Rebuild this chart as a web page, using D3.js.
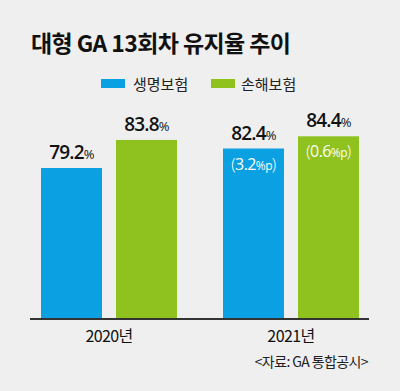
<!DOCTYPE html>
<html><head><meta charset="utf-8">
<script src="https://cdn.jsdelivr.net/npm/d3@7"></script>
<style>
html,body{margin:0;padding:0;background:#efefef;}
svg{display:block;font-family:"Noto Sans CJK KR","Noto Sans",sans-serif;}
</style></head>
<body>
<svg id="c" width="400" height="391"></svg>
<script>
const title = "대형 GA 13회차 유지율 추이";
const categories = ["2020년", "2021년"];
const seriesNames = ["생명보험", "손해보험"];
const lifeValues = [79.2, 82.4];
const nonLifeValues = [83.8, 84.4];
const lifeChange = [null, "3.2"];
const nonLifeChange = [null, "0.6"];
const source = "<자료: GA 통합공시>";
const colors = ["#0aa0e2", "#8fc21f"];

const svg = d3.select("#c");
svg.append("rect").attr("width",400).attr("height",391).attr("fill","#efefef");

svg.append("text").attr("x",31).attr("y",52)
  .attr("font-size",23).attr("font-weight",700).attr("fill","#111")
  .attr("letter-spacing",-0.6).text(title);

// legend
const lg = svg.append("g");
[[101,133],[211,241]].forEach((p,i)=>{
  lg.append("rect").attr("x",p[0]).attr("y",79).attr("width",24).attr("height",9).attr("fill",colors[i]);
  lg.append("text").attr("x",p[1]).attr("y",90).attr("font-size",15).attr("fill","#222").text(seriesNames[i]);
});

const x0 = d3.scaleBand().domain(categories).range([41,359]).paddingInner(0.2527).paddingOuter(0);
const x1 = d3.scaleBand().domain(seriesNames).range([0,x0.bandwidth()]).paddingInner(0.1867).paddingOuter(0);
const y = d3.scaleLinear().domain([54.45,90]).range([319,319-35.55*6.1]);

const data = categories.map((c,i)=>({cat:c, vals:[
  {s:seriesNames[0], v:lifeValues[i], ch:lifeChange[i], col:colors[0]},
  {s:seriesNames[1], v:nonLifeValues[i], ch:nonLifeChange[i], col:colors[1]}
]}));

const g = svg.append("g");
const grp = g.selectAll("g.cat").data(data).join("g").attr("transform",d=>`translate(${x0(d.cat)},0)`);
grp.selectAll("rect").data(d=>d.vals).join("rect")
  .attr("x",d=>x1(d.s)).attr("width",x1.bandwidth())
  .attr("y",d=>y(d.v)).attr("height",d=>y.range()[0]-y(d.v)).attr("fill",d=>d.col);

grp.selectAll("text.val").data(d=>d.vals).join("text").attr("class","val")
  .attr("x",d=>x1(d.s)+x1.bandwidth()/2).attr("y",d=>y(d.v)-9)
  .attr("text-anchor","middle").attr("fill","#111")
  .attr("font-family","'Open Sans','Noto Sans',sans-serif").attr("letter-spacing",-0.8)
  .each(function(d){
    const t=d3.select(this);
    t.append("tspan").attr("font-size",19).attr("font-weight",600).text(d.v.toFixed(1));
    t.append("tspan").attr("font-size",13).text("%");
  });

grp.selectAll("text.ch").data(d=>d.vals.filter(v=>v.ch)).join("text").attr("class","ch")
  .attr("x",d=>x1(d.s)+x1.bandwidth()/2).attr("y",d=>y(d.v)+21)
  .attr("text-anchor","middle").attr("fill","#fff")
  .attr("font-family","'Open Sans','Noto Sans',sans-serif").attr("letter-spacing",-0.6)
  .each(function(d){
    const t=d3.select(this);
    t.append("tspan").attr("font-size",16).attr("font-weight",300).text("(");
    t.append("tspan").attr("font-size",16).text(d.ch);
    t.append("tspan").attr("font-size",12).text("%p");
    t.append("tspan").attr("font-size",16).attr("font-weight",300).text(")");
  });

// axis
const ax = svg.append("g").attr("transform","translate(0,319)")
  .call(d3.axisBottom(x0).tickSize(0).tickPadding(12));
ax.select(".domain").attr("stroke","#333").attr("stroke-width",2).attr("d","M30,0H369");
ax.selectAll("text").attr("font-size",16).attr("fill","#111").attr("letter-spacing",-0.6)
  .attr("font-family","'Noto Sans CJK KR',sans-serif");

svg.append("text").attr("x",368).attr("y",367).attr("text-anchor","end")
  .attr("font-size",14).attr("fill","#222").attr("letter-spacing",-0.6).text(source);
</script>
</body></html>
